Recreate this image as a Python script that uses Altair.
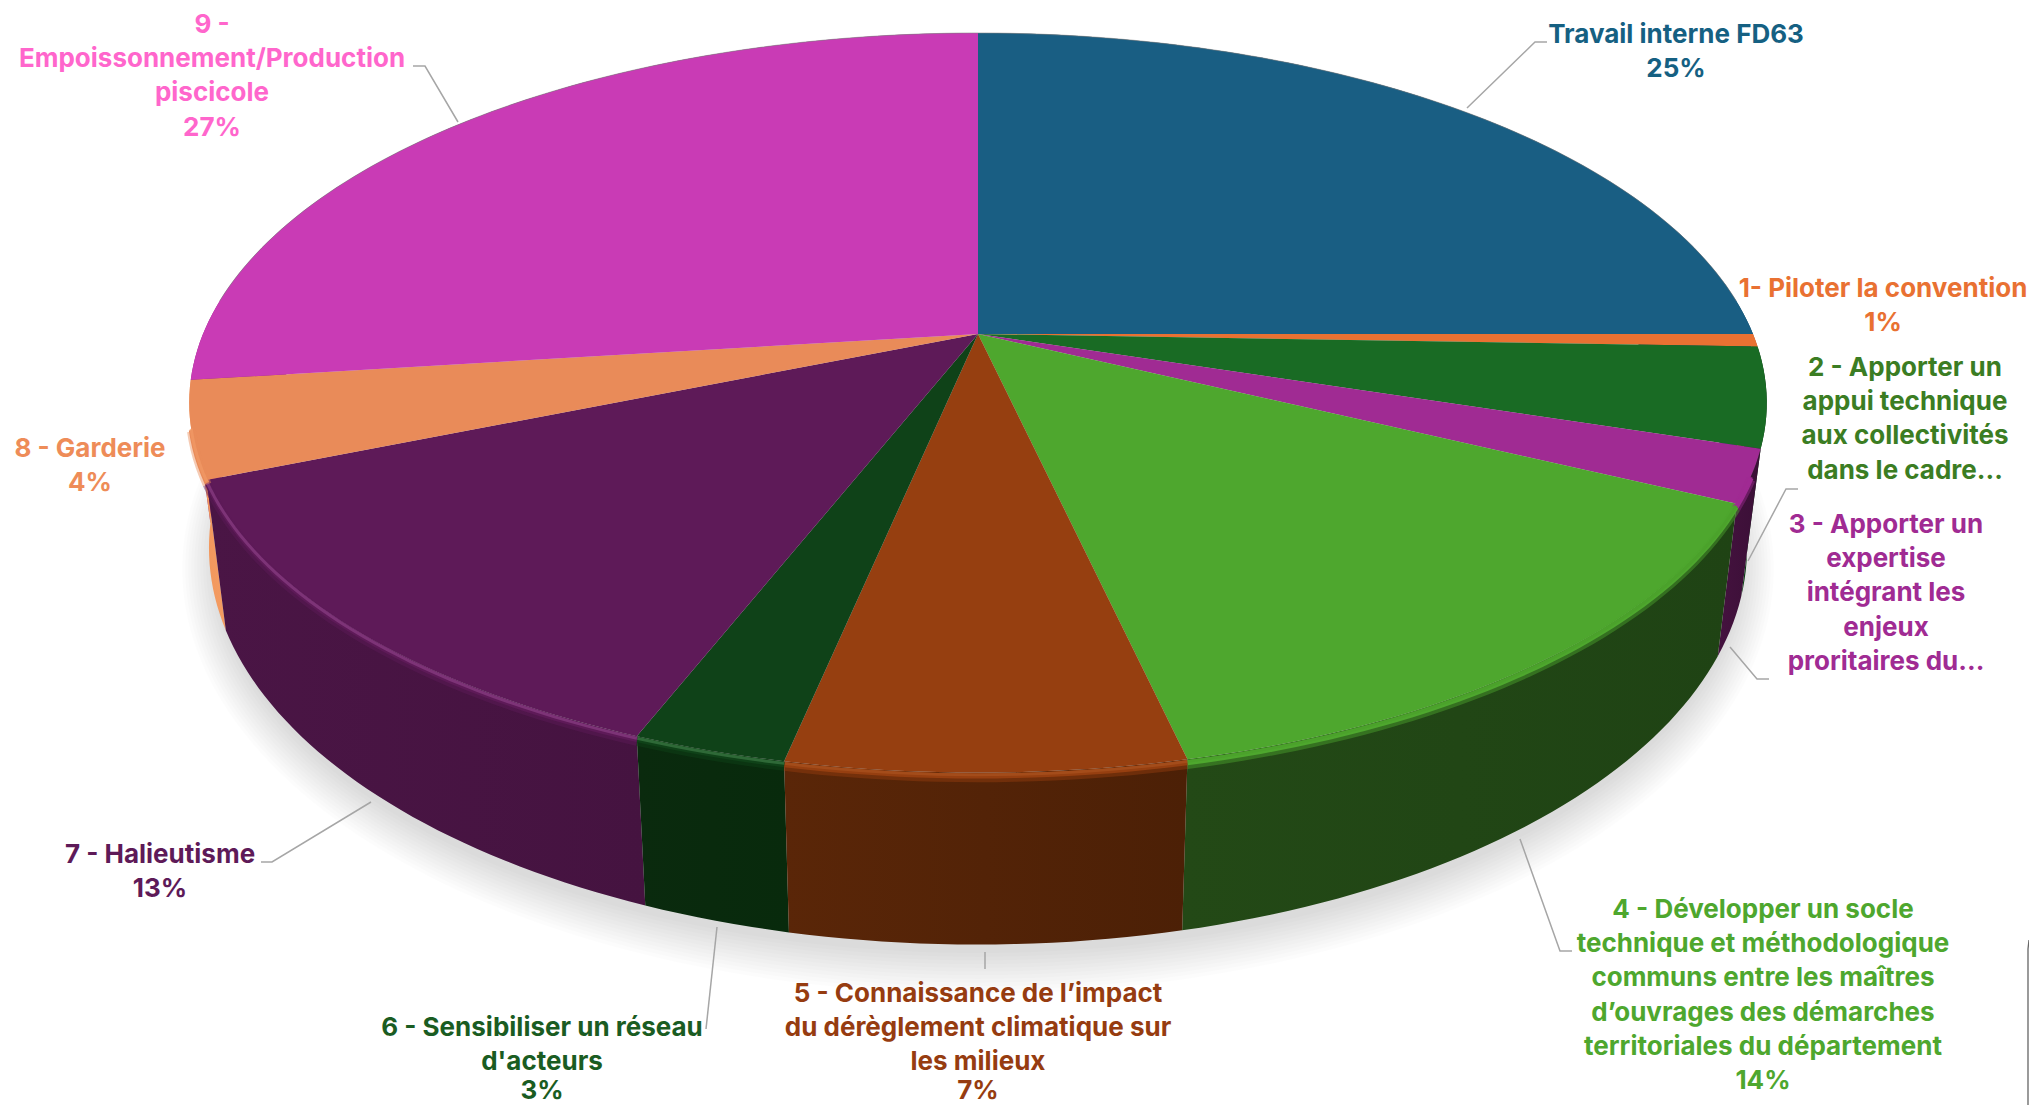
import math
import altair as alt
import pandas as pd

# ---- data ----
shares = [25.0, 0.55, 4.35, 2.3, 14.25, 6.83, 2.65, 12.87, 4.2, 27.0]
top_colors = ["#195E83", "#E97132", "#196B24", "#A02B93", "#4EA72E",
              "#963F10", "#0F4218", "#5E1A58", "#E98B59", "#C93BB5"]
side_colors = ["#12445F", "#A85024", "#0E4A18", "#45123F", "#234916",
               "#5A2608", "#0A2A0E", "#4A1545", "#EF9358", "#8F2A80"]
side_edge = ["#12445F", "#A85024", "#04250A", "#3A0F36", "#1F4314",
             "#4C2006", "#082A0C", "#451340", "#F49C62", "#8F2A80"]
rim_colors = ["#195E83", "#E97132", "#196B24", "#A02B93", "#4A9F2B",
              "#A9521F", "#3C7A45", "#8A3F85", "#F19A66", "#C93BB5"]

label_lines = [
    ["Travail interne FD63", "25%"],
    ["1- Piloter la convention", "1%"],
    ["2 - Apporter un", "appui technique", "aux collectivités", "dans le cadre..."],
    ["3 - Apporter un", "expertise", "intégrant les", "enjeux", "proritaires du..."],
    ["4 - Développer un socle", "technique et méthodologique", "communs entre les maîtres",
     "d’ouvrages des démarches", "territoriales du département", "14%"],
    ["5 - Connaissance de l’impact", "du dérèglement climatique sur", "les milieux", "7%"],
    ["6 - Sensibiliser un réseau", "d'acteurs", "3%"],
    ["7 - Halieutisme", "13%"],
    ["8 - Garderie", "4%"],
    ["9 -", "Empoissonnement/Production", "piscicole", "27%"],
]
label_colors = ["#156082", "#E97132", "#3B7D23", "#A02B93", "#4EA72E",
                "#963C10", "#1A5C22", "#5E1A58", "#EE8C58", "#FF66CC"]
label_cx = [1676, 1883, 1905, 1886, 1763, 978, 542, 160, 90, 212]
label_y0 = [35, 289, 368, 525, 910, 994, 1028, 855, 449, 25]
line_gap = 34.2
lowest_line = 1091

leaders = [
    [(1467, 108), (1535, 42), (1547, 42)],
    [(1798, 489), (1786, 489), (1748, 561)],
    [(1769, 679), (1757, 679), (1730, 647)],
    [(1572, 951), (1560, 951), (1520, 839)],
    [(985, 952), (985, 969)],
    [(706, 1029), (717, 927)],
    [(261, 862), (272, 862), (371, 802)],
    [(413, 66), (425, 66), (458, 122)],
]

# ---- pie projection (perspective-tilted disc) ----
CX, CY, A, B, K, DEPTH, SHRINK = 978, 334, 775, 357, 0.186, 140, 0.975


def rim(t, level=0.0, grow=0.0):
    w = 1 + K * math.cos(t)
    s = 1 - (1 - SHRINK) * level
    x = CX + (A + grow) * s * math.sin(t) / w
    y = CY - (B + grow) * math.cos(t) / w + DEPTH * level / w
    return x, y


def arc(t0, t1, level=0.0, grow=0.0):
    n = max(2, int(abs(t1 - t0) / 0.02))
    return [rim(t0 + (t1 - t0) * i / n, level, grow) for i in range(n + 1)]


X = alt.X("x:Q", scale=alt.Scale(domain=[8, 2029]), axis=None)
Y = alt.Y("y:Q", scale=alt.Scale(domain=[1105, 8]), axis=None)


def frame(pts):
    return pd.DataFrame({"x": [p[0] for p in pts], "y": [p[1] for p in pts], "i": range(len(pts))})


def poly(pts, fill, opacity=1.0):
    return alt.Chart(frame(pts)).mark_line(
        fill=fill, stroke=None, strokeWidth=0, opacity=opacity
    ).encode(x=X, y=Y, order="i:Q")


def stroke(pts, color, width, opacity=1.0):
    return alt.Chart(frame(pts)).mark_line(
        color=color, strokeWidth=width, opacity=opacity, strokeCap="butt"
    ).encode(x=X, y=Y, order="i:Q")


layers = []

# soft shadow under the disc
for g in range(12):
    grow = g * 3.0 - 6
    pts = [(x, y + 16) for x, y in arc(0, 2 * math.pi, 1.0, grow)]
    layers.append(poly(pts, "#000000", 0.012))

# slice boundaries
total = sum(shares)
edges = [0.0]
for v in shares:
    edges.append(edges[-1] + v / total * 2 * math.pi)
slices = list(zip(edges[:-1], edges[1:]))

# sides, farthest first
order = sorted(range(len(slices)), key=lambda i: -abs(math.pi - (slices[i][0] + slices[i][1]) / 2))
for i in order:
    t0, t1 = slices[i]
    if t1 < math.pi * 0.4 or t0 > math.pi * 1.6:
        continue
    pts = arc(t0, t1) + arc(t1, t0, 1.0)
    grad = alt.Gradient(
        gradient="linear", x1=0, x2=1, y1=0, y2=0,
        stops=[alt.GradientStop(color=side_colors[i], offset=0),
               alt.GradientStop(color=side_edge[i], offset=1)],
    )
    layers.append(poly(pts, grad))

# top faces
for i, (t0, t1) in enumerate(slices):
    layers.append(poly([(CX, CY)] + arc(t0, t1), top_colors[i]))

# thin soft outline round the far edge
layers.append(stroke(arc(-math.pi * 0.47, math.pi * 0.47), "#7F7F7F", 1.0, 0.55))

# bevel highlight along the near edge
for i, (t0, t1) in enumerate(slices):
    a, b = max(t0, math.pi * 0.62), min(t1, math.pi * 1.42)
    if a >= b:
        continue
    layers.append(stroke(arc(a, b, 0.03), top_colors[i], 9, 0.45))
    layers.append(stroke(arc(a, b, 0.02), top_colors[i], 5, 1.0))
    layers.append(stroke(arc(a, b, 0.012), rim_colors[i], 3, 0.7))

# leader lines
for pts in leaders:
    layers.append(stroke(pts, "#A6A6A6", 1.5))

# border fragment, bottom right
layers.append(stroke([(2029, 940), (2028, 949), (2028, 1105)], "#666666", 1.3))

# labels
rows = []
for i, lines in enumerate(label_lines):
    for j, line in enumerate(lines):
        rows.append({"x": label_cx[i], "y": min(label_y0[i] + j * line_gap, lowest_line),
                     "t": line, "c": label_colors[i]})
layers.append(
    alt.Chart(pd.DataFrame(rows)).mark_text(
        font="Inter", fontWeight=700, fontSize=26, align="center", baseline="middle"
    ).encode(x=X, y=Y, text="t:N", color=alt.Color("c:N", scale=None))
)

chart = alt.layer(*layers).properties(
    width=2021, height=1097, padding=0, autosize=alt.AutoSizeParams(type="none"), background="white"
).configure_view(stroke=None)

chart.save("out.html", embed_options={"renderer": "svg", "actions": False})
